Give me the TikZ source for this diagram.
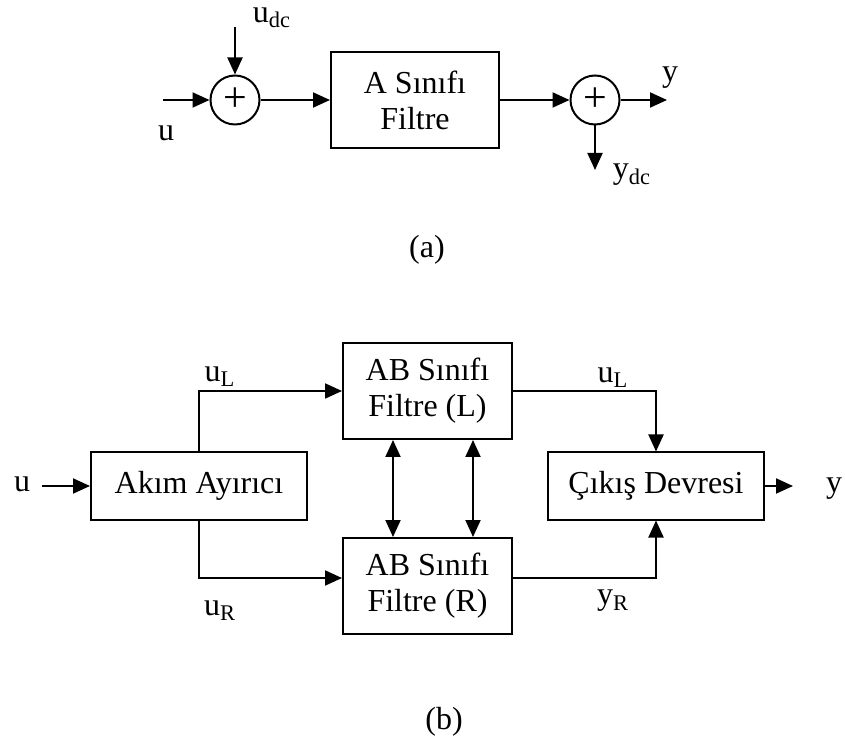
\documentclass[tikz,border=0pt]{standalone}
\usepackage{fontspec}
\setmainfont{Liberation Serif}
\usetikzlibrary{arrows.meta,positioning}
\tikzset{
  every picture/.style={line width=1pt, >={Triangle[length=8.5pt,width=7.5pt]}},
  every node/.style={font=\fontsize{16}{18}\selectfont},
  % Bloecke
  blk/.style={draw, rectangle, align=center, inner sep=0pt},
  sum/.style={draw, circle, minimum size=24.5pt, inner sep=0pt, font=\fontsize{21}{21}\selectfont},
  % Signale
  sig/.style={->},
  lbl/.style={inner sep=0pt},
}

\begin{document}
\begin{tikzpicture}[x=0.5pt, y=-0.5pt]
  \useasboundingbox (0,0) rectangle (845,742);
  % (a) Klasse A
  \node[sum] (s1) at (235,100) {+};
  \node[blk, minimum width=84pt, minimum height=48pt] (fa) at (415,100) {A Sınıfı\\Filtre};
  \node[sum] (s2) at (595,100) {+};
  \coordinate (ain) at (163,100);
  \coordinate (adc) at (235,27);
  \coordinate (aout) at (667,100);
  \coordinate (ady) at (595,170);
  \draw[sig] (ain) -- (s1);
  \draw[sig] (adc) -- (s1);
  \draw[sig] (s1) -- (fa);
  \draw[sig] (fa) -- (s2);
  \draw[sig] (s2) -- (aout);
  \draw[sig] (s2) -- (ady);
  \node[lbl] (lu) at (166,133) {u};
  \node[lbl] (ludc) at (272,18) {u\textsubscript{dc}};
  \node[lbl] (ly) at (670,78) {y};
  \node[lbl] (lydc) at (632,175) {y\textsubscript{dc}};
  \node (capa) at (427,250) {(a)};
  % (b) Klasse AB
  \node[blk, minimum width=108pt, minimum height=34pt] (split) at (199,486) {Akım Ayırıcı};
  \node[blk, minimum width=84.5pt, minimum height=48pt] (fL) at (427.5,391) {AB Sınıfı\\Filtre (L)};
  \node[blk, minimum width=84.5pt, minimum height=48pt] (fR) at (427.5,586) {AB Sınıfı\\Filtre (R)};
  \node[blk, minimum width=108pt, minimum height=33.5pt] (out) at (656,486) {Çıkış Devresi};
  \coordinate (bin) at (42,486);
  \coordinate (bout) at (793,486);
  \draw[sig] (bin) -- (split);
  \draw[sig] (split.north) |- (fL.west);
  \draw[sig] (split.south) |- ([yshift=4pt]fR.west);
  \draw[sig] (fL.east) -| (out.north);
  \draw[sig] ([yshift=4pt]fR.east) -| (out.south);
  \draw[sig] (out) -- (bout);
  \foreach \dx in {-17.25pt,22.75pt}
    \draw[<->] ([xshift=\dx]fL.south) -- ([xshift=\dx]fR.north);
  \node[lbl] (lbu) at (22,484) {u};
  \node[lbl] (luL) at (220,377) {u\textsubscript{L}};
  \node[lbl] (luR) at (220,611) {u\textsubscript{R}};
  \node[lbl] (luL2) at (613,378) {u\textsubscript{L}};
  \node[lbl] (lyR) at (613,601) {y\textsubscript{R}};
  \node[lbl] (lby) at (834,489) {y};
  \node (capb) at (444,722) {(b)};
\end{tikzpicture}
\end{document}
